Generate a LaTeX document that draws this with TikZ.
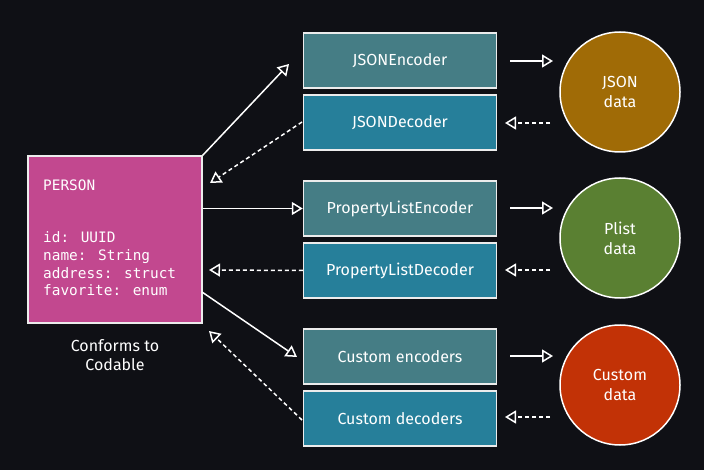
\documentclass[tikz,border=0pt]{standalone}
\usepackage{fontspec}
\setmainfont{Fira Sans}
\newfontfamily\codefont{DejaVu Sans Mono}
\usetikzlibrary{arrows.meta}
\definecolor{bg}{HTML}{0F1015}
\definecolor{personc}{HTML}{C2488F}
\definecolor{encc}{HTML}{457D85}
\definecolor{decc}{HTML}{267F9A}
\definecolor{jsonc}{HTML}{A06B06}
\definecolor{plistc}{HTML}{5A8032}
\definecolor{customc}{HTML}{C23206}
\tikzset{
  box/.style={draw=white!85!gray, line width=1.5pt, minimum width=193pt, minimum height=55pt, inner sep=0pt, text=white, font=\fontsize{16}{19}\selectfont},
  encbox/.style={box, fill=encc},
  decbox/.style={box, fill=decc},
  datacirc/.style={circle, draw=white, line width=1.5pt, minimum size=120pt, inner sep=0pt, text=white, align=center, font=\fontsize{16}{20}\selectfont},
  arr/.style={draw=white, line width=1.5pt, -{Triangle[open, length=11pt, width=13pt, line width=1.5pt]}},
  darr/.style={arr, dash pattern=on 4pt off 3pt},
}
\begin{document}
\begin{tikzpicture}[x=1pt,y=-1pt]
\fill[bg] (0,0) rectangle (704,470);
\useasboundingbox (0,0) rectangle (704,470);

% person
\node[draw=white!85!gray, line width=1.5pt, fill=personc, minimum width=174pt, minimum height=167pt, inner sep=0pt] (person) at (115,239.5) {};
\node[anchor=base west, text=white, font=\codefont\fontsize{14.4}{18}\selectfont, inner sep=0pt] (ptitle) at (43,191) {PERSON};
\node[anchor=base west, text=white, font=\codefont\fontsize{14.4}{17.8}\selectfont, inner sep=0pt, align=left] (pfields) at (43,296) {id: UUID\\name: String\\address: struct\\favorite: enum};
\node[text=white, align=center, font=\fontsize{16}{19}\selectfont] (conf) at (115,355) {Conforms to\\Codable};

% boxes
\node[encbox] (je) at (400,60.5) {JSONEncoder};
\node[decbox] (jd) at (400,122.5) {JSONDecoder};
\node[encbox] (pe) at (400,208.5) {PropertyListEncoder};
\node[decbox] (pd) at (400,270.5) {PropertyListDecoder};
\node[encbox] (ce) at (400,356.5) {Custom encoders};
\node[decbox] (cd) at (400,418.5) {Custom decoders};

% circles
\node[datacirc, fill=jsonc] (jc) at (620,92) {JSON\\data};
\node[datacirc, fill=plistc] (pc) at (620,238) {Plist\\data};
\node[datacirc, fill=customc] (cc) at (620,385) {Custom\\data};

% person arrows
\coordinate (t1) at (289,64);
\coordinate (t2) at (210,183);
\coordinate (t4) at (209,270);
\coordinate (t5) at (297,357);
\coordinate (t6) at (209,331);
\coordinate (s2) at (302,122);
\coordinate (s6) at (302,420);
\draw[arr] (person.north east) -- (t1);
\draw[darr] (s2) -- (t2);
\draw[arr] (person.east |- pe) -- (pe.west);
\draw[darr] (pd.west) -- (t4);
\draw[arr] (202,292) coordinate (s5) -- (t5);
\draw[darr] (s6) -- (t6);

% small arrows
\foreach \n/\y in {a/61,b/208,c/356}{
  \coordinate (es\n) at (510,\y);
  \coordinate (ee\n) at (553,\y);
  \draw[arr] (es\n) -- (ee\n);
}
\foreach \n/\y in {a/123,b/270,c/417}{
  \coordinate (ds\n) at (550,\y);
  \coordinate (de\n) at (505,\y);
  \draw[darr] (ds\n) -- (de\n);
}
\end{tikzpicture}
\end{document}
